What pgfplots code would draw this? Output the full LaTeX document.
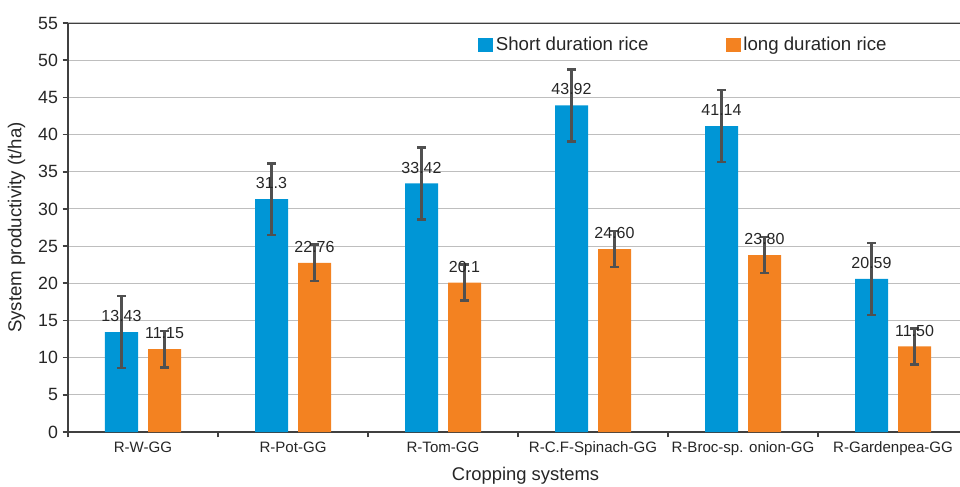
\documentclass[border=0pt]{standalone}
\usepackage{pgfplots}
\pgfplotsset{compat=1.18}
\usepackage{fontspec}
\setmainfont{Liberation Sans}
\definecolor{cblue}{RGB}{0,150,214}
\definecolor{corange}{RGB}{243,130,33}
\definecolor{axgray}{RGB}{64,64,64}
\definecolor{errgray}{RGB}{80,80,80}
\definecolor{gridgray}{RGB}{190,190,190}
\begin{document}
\begin{tikzpicture}
\begin{axis}[
  scale only axis,
  width=669pt, height=306.75pt,
  xmin=-0.5, xmax=5.4467,
  ymin=0, ymax=55,
  ybar=7.5pt,
  bar width=24.75pt,
  ytick={0,5,...,55},
  xtick={0,1,2,3,4,5},
  xticklabels={R-W-GG,R-Pot-GG,R-Tom-GG,R-C.F-Spinach-GG,R-Broc-sp. onion-GG,R-Gardenpea-GG},
  minor xtick={-0.5,0.5,1.5,2.5,3.5,4.5},
  major x tick style={draw=none},
  minor tick length=4pt,
  major tick length=4pt,
  tick align=outside,
  tick style={line width=1.2pt, color=axgray},
  axis x line*=bottom, axis y line*=left,
  axis line style={line width=1.5pt, color=axgray, -},
  ymajorgrids, grid style={line width=0.8pt, color=gridgray},
  /pgf/number format/assume math mode=true,
  yticklabel style={font=\fontsize{13.3}{15}\selectfont, text=black!85},
  xticklabel style={font=\fontsize{11.3}{13}\selectfont, text=black!85},
  ylabel={System productivity (t/ha)},
  ylabel style={font=\fontsize{14}{16}\selectfont, text=black!85, at={(axis description cs:-0.0523,0.5)}, anchor=base, rotate=0},
  xlabel={Cropping systems},
  xlabel style={font=\fontsize{13.8}{16}\selectfont, text=black!85, at={(axis description cs:0.513,-0.1174)}, anchor=base},
  point meta=explicit symbolic,
  nodes near coords,
  every node near coord/.append style={font=\fontsize{12}{14}\selectfont, text=black!85, anchor=south, inner sep=0pt, yshift=7.5pt},
  error bars/error bar style={line width=1.9pt, color=errgray},
  error bars/error mark options={rotate=90, mark size=3.3pt, line width=1.9pt, color=errgray},
  legend columns=2,
  legend style={at={(axis description cs:0.4596,0.9462)}, anchor=west, draw=none, fill=none,
    font=\fontsize{14}{16}\selectfont, text=black!85, inner sep=0pt,
    /tikz/every even column/.append style={column sep=56pt}},
  legend image code/.code={\fill[#1] (0pt,-5.6pt) rectangle (11.25pt,5.6pt);},
]
\addplot[fill=cblue, draw=none,
  error bars/.cd, y dir=both, y explicit]
  table[x=x, y=y, y error=e, meta=lab] {
x y e lab
0 13.43 4.83 13.43
1 31.30 4.83 31.3
2 33.42 4.83 33.42
3 43.92 4.83 43.92
4 41.14 4.83 41.14
5 20.59 4.83 20.59
};
\addlegendentry{Short duration rice}
\addplot[fill=corange, draw=none,
  error bars/.cd, y dir=both, y explicit]
  table[x=x, y=y, y error=e, meta=lab] {
x y e lab
0 11.15 2.45 11.15
1 22.76 2.45 22.76
2 20.10 2.40 20.1
3 24.60 2.40 24.60
4 23.80 2.40 23.80
5 11.50 2.40 11.50
};
\addlegendentry{long duration rice}
\draw[line width=1.5pt, color=axgray] (rel axis cs:0,1) -- (rel axis cs:1,1);
\end{axis}
\pgfresetboundingbox
\path[use as bounding box] (-51pt,-40.5pt) rectangle (669pt,324pt);
\end{tikzpicture}
\end{document}
